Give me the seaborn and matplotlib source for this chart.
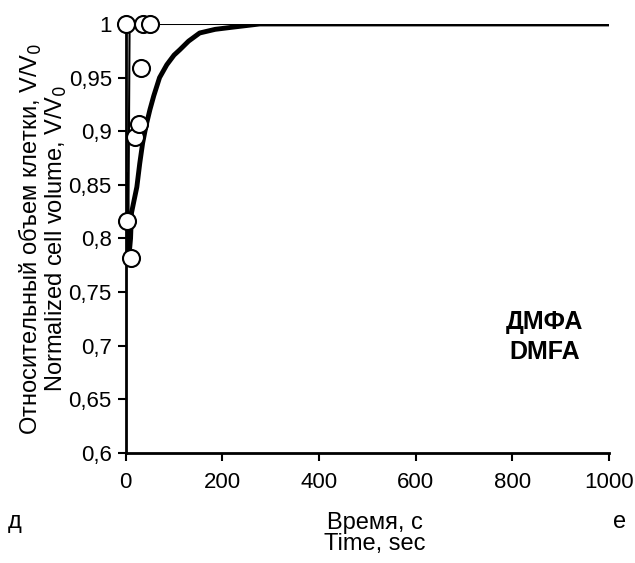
import matplotlib
matplotlib.use("Agg")
import matplotlib.pyplot as plt
from matplotlib.ticker import FuncFormatter
import seaborn as sns

# thin curve (fast response)
thin_t = [0, 1, 5, 8, 1000]
thin_v = [1.0, 0.85, 0.78, 1.0, 1.0]

# thick curve (model fit)
fit_t = [1, 3, 6, 10, 12, 17, 23, 29, 35, 42, 50, 58, 70, 85, 100, 112, 130, 153, 185, 221, 277, 1000]
fit_v = [0.86, 0.80, 0.78, 0.80, 0.824, 0.835, 0.848, 0.87, 0.889, 0.905, 0.92, 0.933, 0.95,
         0.962, 0.971, 0.976, 0.984, 0.9916, 0.995, 0.997, 1.0, 1.0]

# experimental points
exp_t = [0, 2, 10, 19, 27, 31, 35, 50]
exp_v = [1.0, 0.816, 0.782, 0.895, 0.907, 0.959, 1.0, 1.0]

sns.set_style("white")
plt.rcParams['font.family'] = ['Liberation Sans', 'DejaVu Sans']
plt.rcParams['text.color'] = 'black'
plt.rcParams['axes.labelcolor'] = 'black'
plt.rcParams['xtick.color'] = 'black'
plt.rcParams['ytick.color'] = 'black'

fig = plt.figure(figsize=(6.35, 5.63), dpi=100)
ax = fig.add_axes([0.198, 0.1954, 0.761, 0.762])

sns.lineplot(x=thin_t, y=thin_v, ax=ax, color="black", lw=1.5, sort=False, estimator=None)
sns.lineplot(x=fit_t, y=fit_v, ax=ax, color="black", lw=3.5, sort=False, estimator=None)
sns.scatterplot(x=exp_t, y=exp_v, ax=ax, s=150, color="white", edgecolor="black",
                linewidth=1.5, zorder=5, clip_on=False)

ax.set_xlim(0, 1000)
ax.set_ylim(0.6, 1.0)
ax.set_xticks([0, 200, 400, 600, 800, 1000])
ax.set_yticks([0.6, 0.65, 0.7, 0.75, 0.8, 0.85, 0.9, 0.95, 1.0])
ax.yaxis.set_major_formatter(FuncFormatter(lambda v, p: ("%g" % v).replace(".", ",")))
ax.tick_params(axis="both", labelsize=16, direction="out", length=6, width=1.5, left=True, bottom=True)
ax.tick_params(axis="x", pad=8)
ax.tick_params(axis="y", pad=4)
for s in ["top", "right"]:
    ax.spines[s].set_visible(False)
for s in ["left", "bottom"]:
    ax.spines[s].set_linewidth(2)
    ax.spines[s].set_color("black")

ax.set_ylabel("Относительный объем клетки, V/V$_0$\nNormalized cell volume, V/V$_0$",
              fontsize=17, labelpad=0, linespacing=0.95)
ax.set_xlabel("")
fig.text(0.59, 0.052, "Время, с\nTime, sec", ha="center", va="center", fontsize=17, linespacing=0.95)
fig.text(0.012, 0.073, "д", ha="left", va="center", fontsize=17)
fig.text(0.976, 0.073, "е", ha="center", va="center", fontsize=17)
ax.text(867, 0.708, "ДМФА\nDMFA", ha="center", va="center", fontsize=18, fontweight="bold",
        linespacing=1.3)

fig.savefig("out.png", dpi=100)
